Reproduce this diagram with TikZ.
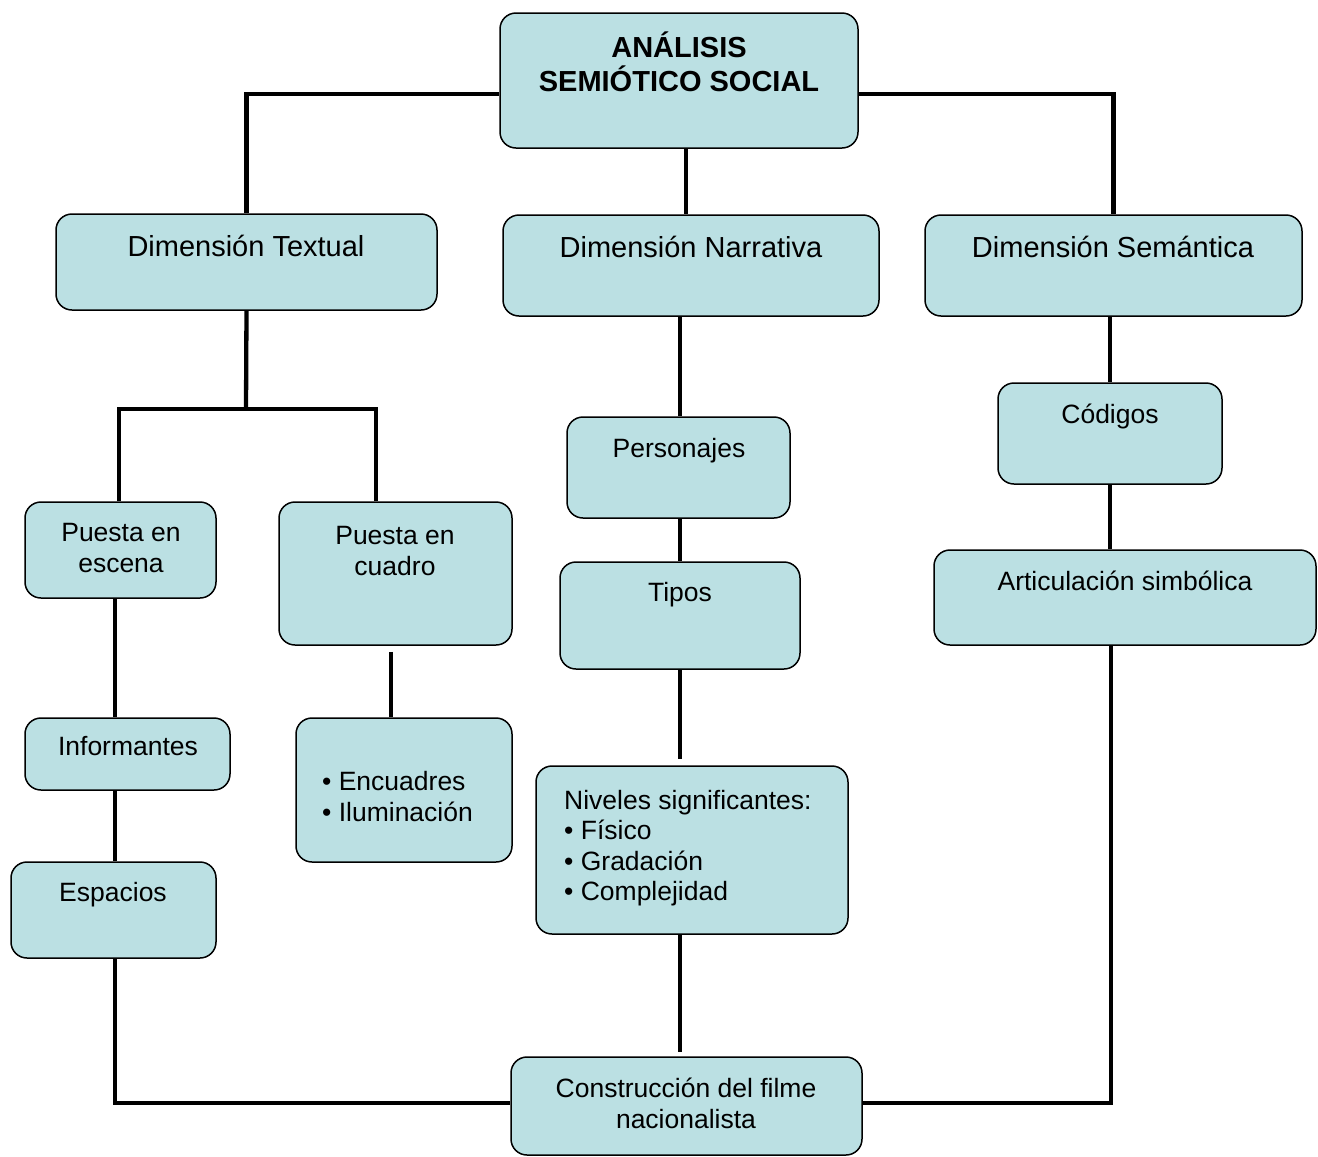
\documentclass[tikz,border=0pt]{standalone}
\usepackage{fontspec}
\setmainfont{Liberation Sans}
\usetikzlibrary{fit}
\definecolor{boxfill}{RGB}{187,224,227}
\begin{document}
\begin{tikzpicture}[x=1pt,y=-1pt,
  box/.style={draw=black, line width=1.5pt, fill=boxfill, rounded corners=16pt, inner sep=0pt},
  txt/.style={font=\fontsize{26.5}{30.5}\selectfont, align=center, inner sep=0pt},
  big/.style={font=\fontsize{29}{34}\selectfont, align=center, inner sep=0pt},
  conn/.style={line width=4.3pt, line join=miter}]
\useasboundingbox (0,0) rectangle (1318,1157);
\begin{scope}
\node[box, fit={(500,13) (858,148)}] (tb) {};
\node[box, fit={(56,214) (437,310)}] (dt) {};
\node[box, fit={(503,215) (879,316)}] (dn) {};
\node[box, fit={(925,215) (1302,316)}] (ds) {};
\node[box, fit={(567,417) (790,518)}] (pers) {};
\node[box, fit={(560,562) (800,669)}] (tipos) {};
\node[box, fit={(536,766) (848,934)}] (niv) {};
\node[box, fit={(998,383) (1222,484)}] (cod) {};
\node[box, fit={(934,550) (1316,645)}] (art) {};
\node[box, fit={(25,502) (216,598)}] (pe) {};
\node[box, fit={(279,502) (512,645)}] (pc) {};
\node[box, fit={(25,718) (230,790)}] (inf) {};
\node[box, fit={(11,862) (216,958)}] (esp) {};
\node[box, fit={(296,718) (512,862)}] (enc) {};
\node[box, fit={(511,1057) (862,1155)}] (con) {};
\end{scope}
\coordinate (j1) at (246,409);
\draw[conn] (tb.west |- 0,94) -| (dt.north);
\draw[conn] (tb.east |- 0,94) -| (ds.north);
\draw[conn] (tb.south -| 686,0) -- (dn.north -| 686,0);
\draw[conn] (dt.south) -- (j1);
\draw[conn] (pe.north -| 119,0) |- (j1);
\draw[conn] (pc.north -| 376,0) |- (j1);
\draw[conn] (pe.south -| 115,0) -- (inf.north -| 115,0);
\draw[conn] (inf.south -| 115,0) -- (esp.north -| 115,0);
\draw[conn] (esp.south -| 115,0) |- (con.west |- 0,1103);
\draw[conn] ([yshift=-6pt]pc.south -| 391,0) -- (enc.north -| 391,0);
\draw[conn] (dn.south -| 680,0) -- (pers.north -| 680,0);
\draw[conn] (pers.south -| 680,0) -- (tipos.north -| 680,0);
\draw[conn] (tipos.south -| 680,0) -- ([yshift=6pt]niv.north -| 680,0);
\draw[conn] (niv.south -| 680,0) -- ([yshift=4pt]con.north -| 680,0);
\draw[conn] (ds.south -| 1110,0) -- (cod.north -| 1110,0);
\draw[conn] (cod.south -| 1110,0) -- (art.north -| 1110,0);
\draw[conn] (art.south -| 1111,0) |- (con.east |- 0,1103);
% texts
\node[big, font=\fontsize{29}{34}\selectfont\bfseries] (tbt) at (679,62) {ANÁLISIS\\SEMIÓTICO SOCIAL};
\node[big] (dtt) at (246,246) {Dimensión Textual};
\node[big] (dnt) at (691,247) {Dimensión Narrativa};
\node[big] (dst) at (1113,247) {Dimensión Semántica};
\node[txt] (perst) at (679,450.5) {Personajes};
\node[txt] (tipost) at (680,594.5) {Tipos};
\node[txt, align=left, anchor=west] (nivt) at (564,848) {Niveles significantes:\\• Físico\\• Gradación\\• Complejidad};
\node[txt] (codt) at (1110,416.5) {Códigos};
\node[txt] (artt) at (1125,580.5) {Articulación simbólica};
\node[txt] (pet) at (121,548) {Puesta en\\escena};
\node[txt] (pct) at (395,551) {Puesta en\\cuadro};
\node[txt] (inft) at (128,746.5) {Informantes};
\node[txt] (espt) at (113,894.5) {Espacios};
\node[txt, align=left, anchor=west] (enct) at (322,796.5) {• Encuadres\\• Iluminación};
\node[txt] (cont) at (686,1103.5) {Construcción del filme\\nacionalista};
\end{tikzpicture}
\end{document}
